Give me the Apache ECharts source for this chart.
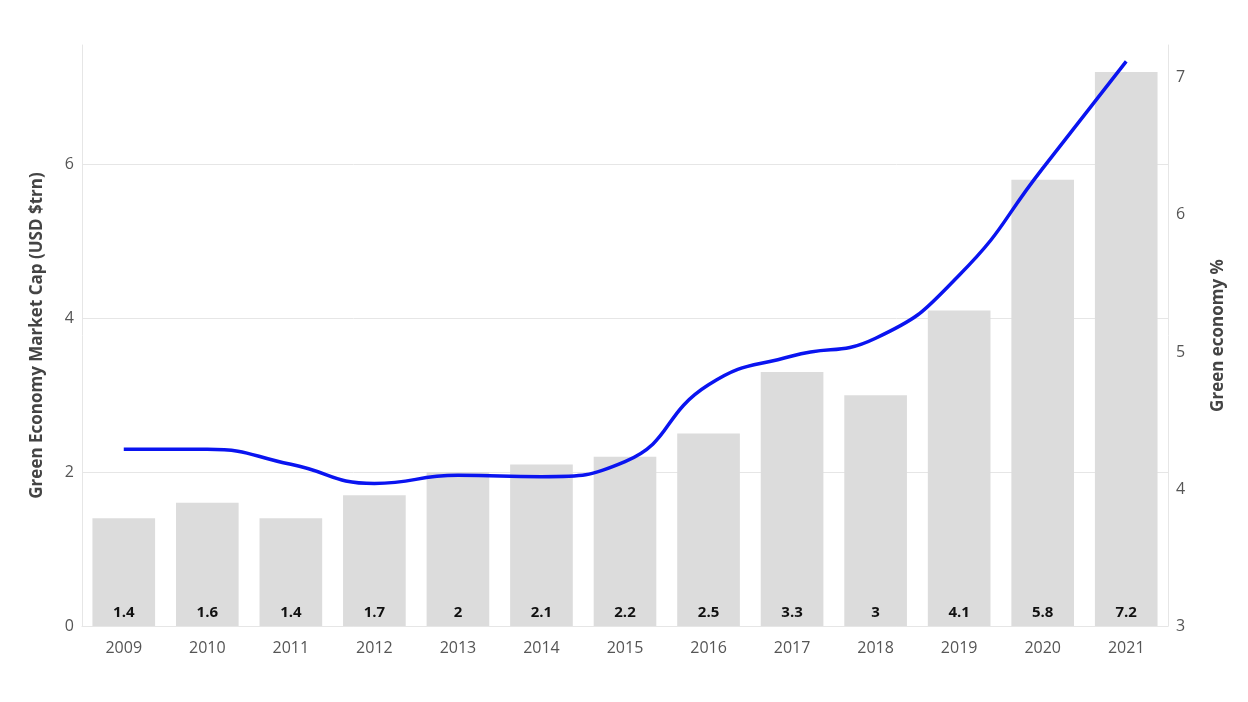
<!DOCTYPE html>
<html><head><meta charset="utf-8">
<script src="https://cdn.jsdelivr.net/npm/echarts@6/dist/echarts.min.js"></script>
<style>html,body{margin:0;padding:0;background:#fff}#c{width:1248px;height:702px}</style>
</head><body><div id="c"></div>
<script>
const years = ['2009','2010','2011','2012','2013','2014','2015','2016','2017','2018','2019','2020','2021'];
const marketCap = [1.4,1.6,1.4,1.7,2,2.1,2.2,2.5,3.3,3,4.1,5.8,7.2];
const greenPct = [4.29,4.29,4.18,4.04,4.1,4.09,4.2,4.76,4.97,5.1,5.56,6.34,7.12];
const font = 'Source Sans Pro, "Open Sans", "Noto Sans", sans-serif';
const chart = echarts.init(document.getElementById('c'));
chart.setOption({
  animation:false,
  textStyle:{fontFamily:font},
  grid:{left:82,right:80,top:45,bottom:76},
  xAxis:{type:'category',data:years,axisTick:{show:false},
    axisLine:{lineStyle:{color:'#e6e6e6'}},
    axisLabel:{color:'#555',fontSize:16,margin:14}},
  yAxis:[
    {type:'value',min:0,max:7.55,interval:2,name:'Green Economy Market Cap (USD $trn)',
     nameLocation:'middle',nameGap:36,nameTextStyle:{fontSize:17,fontWeight:'bold',color:'#444'},
     axisLabel:{color:'#555',fontSize:16,showMaxLabel:false},
     axisLine:{show:true,lineStyle:{color:'#e6e6e6'}},
     splitLine:{lineStyle:{color:['#e6e6e6','#e6e6e6','#e6e6e6','#e6e6e6','rgba(0,0,0,0)']}}},
    {type:'value',min:3,max:7.24,interval:1,name:'Green economy %',
     nameLocation:'middle',nameGap:42,nameTextStyle:{fontSize:17,fontWeight:'bold',color:'#444'},
     axisLabel:{color:'#555',fontSize:16,showMaxLabel:false},
     axisLine:{show:true,lineStyle:{color:'#e6e6e6'}},
     splitLine:{show:false}}
  ],
  series:[
    {type:'bar',data:marketCap,barWidth:'75%',itemStyle:{color:'#dcdcdc'},
     label:{show:true,position:'insideBottom',distance:6,color:'#111',fontWeight:'bold',fontSize:15}},
    {type:'line',yAxisIndex:1,data:greenPct,smooth:true,symbol:'circle',symbolSize:1,showSymbol:true,
     itemStyle:{opacity:0},
     lineStyle:{color:'#0a14f0',width:3.5},
     label:{show:true,position:'bottom',distance:12,color:'#222',fontWeight:'bold',fontSize:15}}
  ]
});
</script></body></html>
